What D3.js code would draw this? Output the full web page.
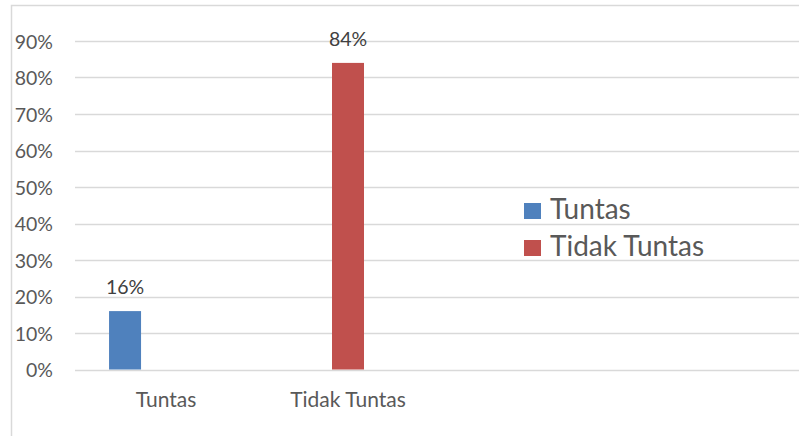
<!DOCTYPE html>
<html>
<head>
<meta charset="utf-8">
<script src="https://cdn.jsdelivr.net/npm/d3@7"></script>
<style>
  html, body { margin: 0; padding: 0; background: #fff; }
  svg { display: block; }
  text { font-family: Lato, "Open Sans", sans-serif; }
</style>
</head>
<body>
<svg id="chart" width="799" height="436"></svg>
<script>
// ---- data ----
const categories = ["Tuntas", "Tidak Tuntas"];
const seriesNames = ["Tuntas", "Tidak Tuntas"];
const seriesValues = [0.16, 0.84];           // value of each series in its own category
const seriesColors = ["#4F81BD", "#C0504D"];
const yTicks = [0, 0.1, 0.2, 0.3, 0.4, 0.5, 0.6, 0.7, 0.8, 0.9];

const svg = d3.select("#chart");
const W = 799, H = 436;

// chart border
svg.append("rect")
  .attr("x", 11.5).attr("y", 5.5)
  .attr("width", 820).attr("height", 460)
  .attr("fill", "#fff").attr("stroke", "#D9D9D9").attr("stroke-width", 1.5);

const plot = { left: 75, right: 803, top: 41, bottom: 369.5 };
const y = d3.scaleLinear().domain([0, 0.9]).range([plot.bottom, plot.top]);
// category band: each category occupies 182px (plot area holds room for 4)
const x = d3.scaleBand().domain(categories).range([plot.left, plot.left + 182 * 2]).padding(0);
// position of each series' bar inside its category band
const barOffset = d3.scaleOrdinal().domain(seriesNames).range([0.275, 0.5]);
const barW = 32;

// gridlines
svg.append("g").selectAll("line").data(yTicks).join("line")
  .attr("x1", plot.left).attr("x2", W + 5)
  .attr("y1", d => Math.round(y(d)) + 0.5).attr("y2", d => Math.round(y(d)) + 0.5)
  .attr("stroke", "#D9D9D9").attr("stroke-width", 1.5);

// y axis labels
const yAxis = d3.axisLeft(y).tickValues(yTicks).tickFormat(d3.format(".0%")).tickSize(0).tickPadding(0);
const gy = svg.append("g").attr("transform", `translate(53,0)`).call(yAxis);
gy.select(".domain").remove();
gy.selectAll("text")
  .attr("fill", "#595959").style("font-size", "19.5px").style("font-family", "Lato, sans-serif")
  .attr("dy", "0.36em");

// bars
seriesNames.forEach((s, i) => {
  const cat = categories[i];
  const cx = x(cat) + x.bandwidth() * barOffset(s);
  svg.append("rect")
    .attr("x", cx - barW / 2)
    .attr("y", y(seriesValues[i]))
    .attr("width", barW)
    .attr("height", y(0) - y(seriesValues[i]))
    .attr("fill", seriesColors[i]);
  svg.append("text")
    .attr("x", cx).attr("y", y(seriesValues[i]) - 17)
    .attr("text-anchor", "middle")
    .attr("fill", "#404040").style("font-size", "19.5px")
    .text(d3.format(".0%")(seriesValues[i]));
});

// x axis labels
const xAxis = d3.axisBottom(x).tickSize(0).tickPadding(0);
const gx = svg.append("g").attr("transform", `translate(0,${plot.bottom})`).call(xAxis);
gx.select(".domain").remove();
gx.selectAll("text")
  .attr("fill", "#595959").style("font-size", "21px").style("font-family", "Lato, sans-serif")
  .attr("dy", null).attr("y", 37.5);

// legend
const lg = svg.append("g");
seriesNames.forEach((s, i) => {
  const ly = 219 + i * 37;
  lg.append("rect").attr("x", 524).attr("y", ly - 16).attr("width", 17).attr("height", 16)
    .attr("fill", seriesColors[i]);
  lg.append("text").attr("x", 550).attr("y", ly)
    .attr("fill", "#595959").style("font-size", "28px").text(s);
});
</script>
</body>
</html>
